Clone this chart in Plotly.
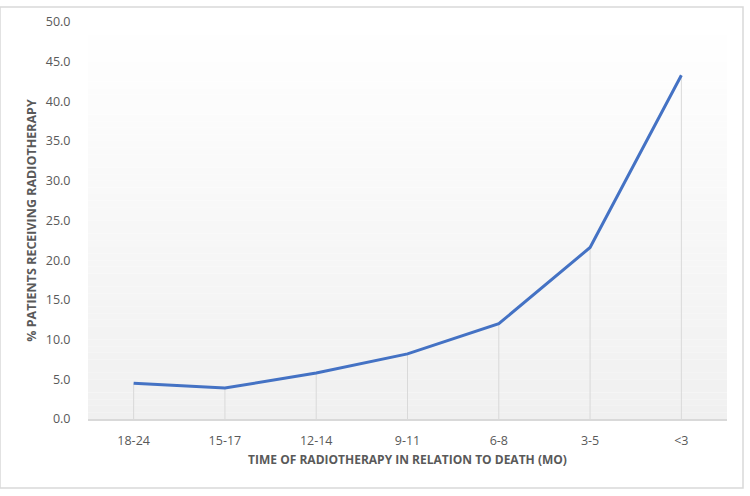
import plotly.graph_objects as go

categories = ["18-24", "15-17", "12-14", "9-11", "6-8", "3-5", "<3"]
values = [4.5, 3.9, 5.8, 8.2, 12.0, 21.6, 43.3]
y_ticks = [0, 5, 10, 15, 20, 25, 30, 35, 40, 45, 50]
y_tick_labels = [f"{v:.1f}" for v in y_ticks]

fig = go.Figure()
fig.add_trace(go.Scatter(
    x=categories, y=values, mode="lines",
    line=dict(color="#4472C4", width=3),
    error_y=dict(type="data", symmetric=False, array=[0]*len(values),
                 arrayminus=values, width=0, thickness=1, color="#D9D9D9"),
    hoverinfo="x+y", showlegend=False,
))

# gradient background in plot area
shapes = []
n = 60
for i in range(n):
    y0 = i / n
    y1 = (i + 1) / n
    t = 1 - (y0 + y1) / 2  # 1 at bottom
    g = int(round(255 - 15 * t))
    shapes.append(dict(type="rect", xref="x domain", yref="y domain",
                       x0=0, x1=1, y0=y0, y1=y1, line=dict(width=0),
                       fillcolor=f"rgb({g},{g},{g})", layer="below"))
# outer border
shapes.append(dict(type="rect", xref="paper", yref="paper",
                   x0=-88/639, x1=(743-88)/639, y0=-(488-419)/397, y1=(419-7)/397,
                   line=dict(color="#D9D9D9", width=1.5), fillcolor="rgba(0,0,0,0)"))

fig.update_layout(
    width=750, height=496,
    margin=dict(l=88, r=23, t=22, b=77),
    paper_bgcolor="white", plot_bgcolor="white",
    font=dict(family="Open Sans, Lato, sans-serif", color="#595959", size=12),
    shapes=shapes,
    xaxis=dict(
        type="category", range=[-0.5, len(categories) - 0.5],
        showgrid=False, zeroline=False,
        showline=True, linecolor="#D9D9D9", linewidth=1.5,
        ticks="outside", ticklen=9, tickcolor="rgba(0,0,0,0)",
        tickfont=dict(size=12.5, color="#595959"),
        title=dict(text="<b>TIME OF RADIOTHERAPY IN RELATION TO DEATH (MO)</b>",
                   font=dict(size=12, color="#595959"), standoff=8),
    ),
    yaxis=dict(
        range=[0, 50], tickvals=y_ticks, ticktext=y_tick_labels,
        showgrid=False, zeroline=False, showline=False,
        ticks="outside", ticklen=14, tickcolor="rgba(0,0,0,0)",
        tickfont=dict(size=12.5, color="#595959"),
        title=dict(text="<b>% PATIENTS RECEIVING RADIOTHERAPY</b>",
                   font=dict(size=12.5, color="#595959"), standoff=6),
    ),
)

fig.write_html("out.html")
